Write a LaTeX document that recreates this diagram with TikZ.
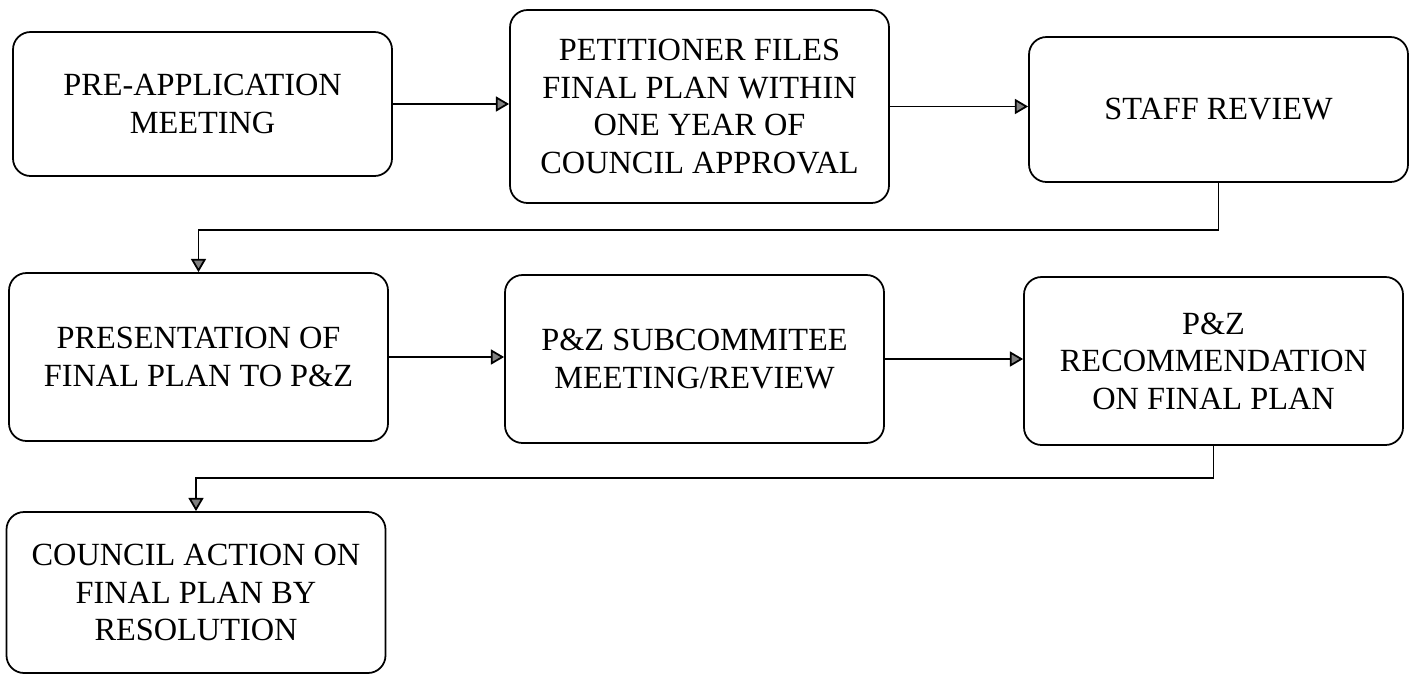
\documentclass[tikz,border=0pt]{standalone}
\usepackage{fontspec}
\setmainfont{Liberation Serif}
\usetikzlibrary{positioning,arrows.meta,calc}
\tikzset{
    stepcard/.style={draw=black,fill=white,rounded corners=10pt,line width=1pt,
        minimum width=7.58cm,minimum height=3.36cm,align=center,inner sep=0pt,
        font=\fontsize{18.4}{21.3}\selectfont},
    arrow/.style={-{Triangle[length=7.5pt,width=8.5pt,fill=gray]},draw=black,line width=1pt}
}

\begin{document}
\begin{tikzpicture}
            \useasboundingbox (0,0) rectangle (28.26,-13.5);

            % first row
            \node[stepcard,minimum height=2.88cm] (premeet) at (4.05,-2.08)
                {PRE-APPLICATION\\MEETING};
            \node[stepcard,minimum height=3.86cm] (petition) at (13.99,-2.13)
                {PETITIONER FILES\\FINAL PLAN WITHIN\\ONE YEAR OF\\COUNCIL APPROVAL};
            \node[stepcard,minimum height=2.90cm] (staff) at (24.37,-2.19)
                {STAFF REVIEW};
            \draw[arrow] (premeet.east) -- (premeet.east -| petition.west);
            \draw[arrow] (petition.east) -- (petition.east -| staff.west);

            % second row
            \node[stepcard] (present) at (3.97,-7.14)
                {PRESENTATION OF\\FINAL PLAN TO P\&Z};
            \node[stepcard] (subcom) at (13.89,-7.18)
                {P\&Z SUBCOMMITEE\\MEETING/REVIEW};
            \node[stepcard] (recom) at (24.27,-7.22)
                {P\&Z\\RECOMMENDATION\\ON FINAL PLAN};
            \draw[arrow] (staff.south) -- ++(0,-0.94) -| (present.north);
            \draw[arrow] (present.east) -- (present.east -| subcom.west);
            \draw[arrow] (subcom.east) -- (subcom.east -| recom.west);

            % last step
            \node[stepcard,minimum height=3.22cm] (council) at (3.92,-11.85)
                {COUNCIL ACTION ON\\FINAL PLAN BY\\RESOLUTION};
            \draw[arrow] (recom.south) -- ++(0,-0.64) -| (council.north);
        \end{tikzpicture}
\end{document}
